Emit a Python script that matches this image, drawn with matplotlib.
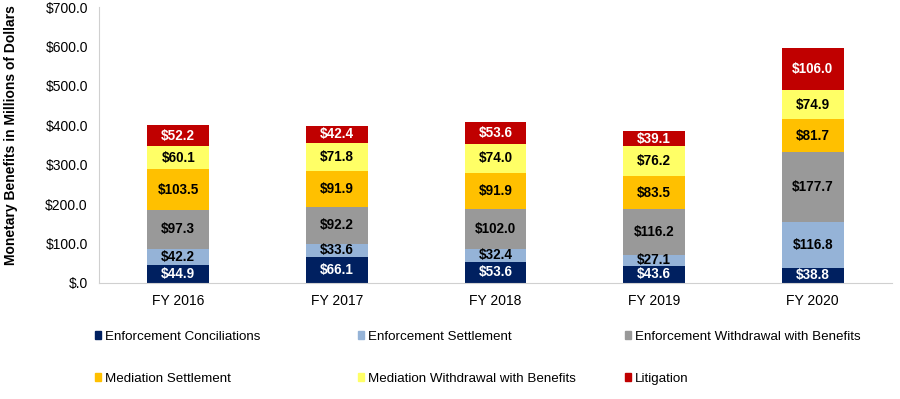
import numpy as np
import matplotlib.pyplot as plt
from matplotlib.patches import Patch

plt.rcParams["font.family"] = ["Liberation Sans", "DejaVu Sans"]

years = ["FY 2016", "FY 2017", "FY 2018", "FY 2019", "FY 2020"]

series_names = [
    "Enforcement Conciliations",
    "Enforcement Settlement",
    "Enforcement Withdrawal with Benefits",
    "Mediation Settlement",
    "Mediation Withdrawal with Benefits",
    "Litigation",
]

enf_conciliations = [44.9, 66.1, 53.6, 43.6, 38.8]
enf_settlement = [42.2, 33.6, 32.4, 27.1, 116.8]
enf_withdrawal = [97.3, 92.2, 102.0, 116.2, 177.7]
med_settlement = [103.5, 91.9, 91.9, 83.5, 81.7]
med_withdrawal = [60.1, 71.8, 74.0, 76.2, 74.9]
litigation = [52.2, 42.4, 53.6, 39.1, 106.0]

colors = ["#002060", "#95B3D7", "#999999", "#FFC000", "#FFFF66", "#C00000"]
label_colors = ["white", "black", "black", "black", "black", "white"]

series = [enf_conciliations, enf_settlement, enf_withdrawal,
          med_settlement, med_withdrawal, litigation]

fig = plt.figure(figsize=(9, 3.99), dpi=100)
ax = fig.add_axes([0.11, 0.291, 0.881, 0.691])

x = np.arange(len(years))
bottom = np.zeros(len(years))
for vals, col, lcol in zip(series, colors, label_colors):
    vals = np.array(vals)
    ax.bar(x, vals, bottom=bottom, width=0.39, color=col)
    for xi, b, v in zip(x, bottom, vals):
        ax.text(xi, b + v / 2, f"${v:.1f}", ha="center", va="center",
                fontsize=9.75, fontweight="bold", color=lcol)
    bottom += vals

ax.set_xlim(-0.5, len(years) - 0.5)
ax.set_ylim(0, 700)
yticks = np.arange(0, 701, 100)
ax.set_yticks(yticks)
ax.set_yticklabels([f"${v:.1f}" if v else "$.0" for v in yticks])
ax.set_xticks(x)
ax.set_xticklabels(years)
ax.tick_params(length=0, labelsize=10, colors="black")
ax.tick_params(axis="x", pad=8)
ax.tick_params(axis="y", pad=8)

for s in ["top", "right"]:
    ax.spines[s].set_visible(False)
for s in ["left", "bottom"]:
    ax.spines[s].set_color("#D0D0D0")

ax.set_ylabel("Monetary Benefits in Millions of Dollars", fontsize=10,
              fontweight="bold", va="center")
ax.yaxis.set_label_coords(-0.111, 0.536)

# legend: three columns, each placed on its own
handles = [Patch(color=c, label=n) for c, n in zip(colors, series_names)]
col_x = [0.1056, 0.398, 0.694]
for k, cx in enumerate(col_x):
    idx = [k, k + 3]
    fig.legend([handles[i] for i in idx], [series_names[i] for i in idx],
               loc="upper left", bbox_to_anchor=(cx, 0.171),
               frameon=False, fontsize=9.6, handlelength=0.45,
               handleheight=0.45, handletextpad=0.3, labelspacing=2.25,
               borderaxespad=0, borderpad=0)

fig.savefig("out.png", dpi=100)
